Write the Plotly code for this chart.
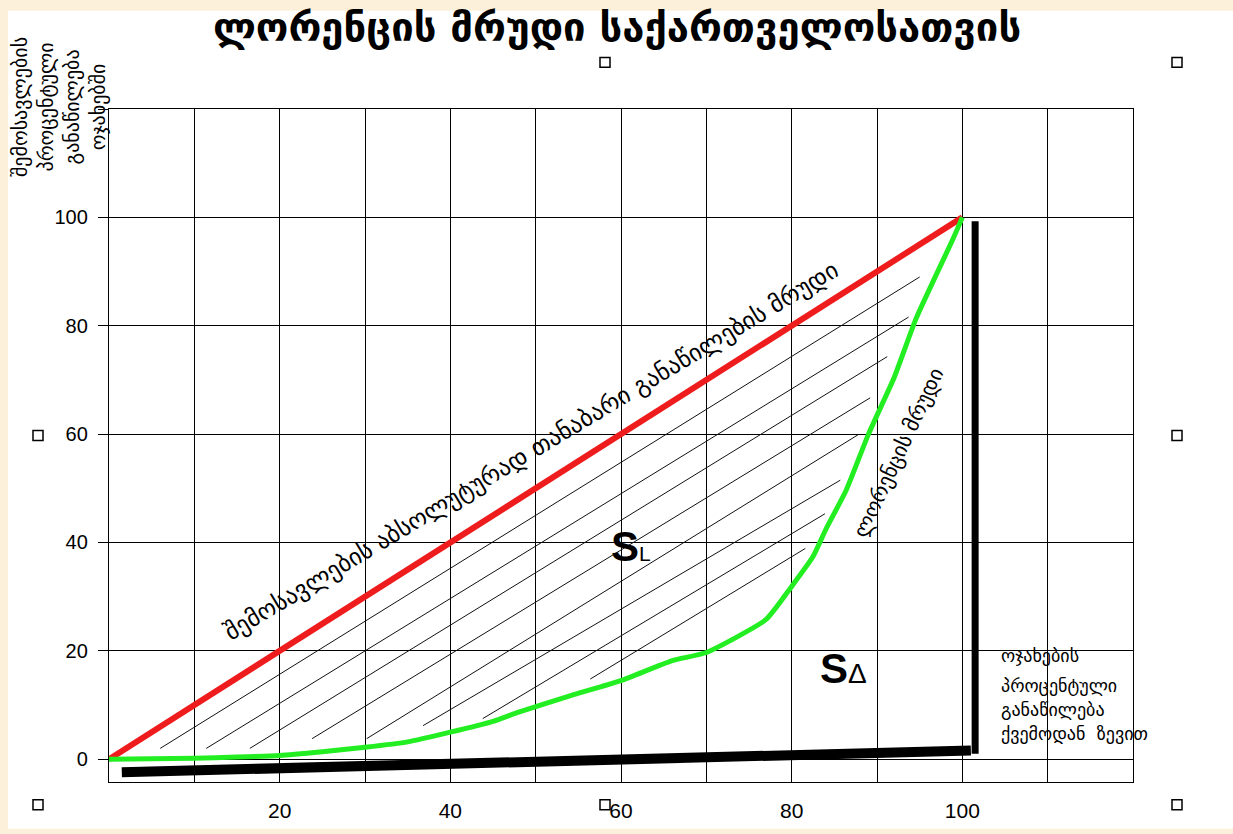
import plotly.graph_objects as go

# ---------------- data ----------------
# Lorenz curve: cumulative % of families vs cumulative % of income
families_pct = [0, 10, 15, 20, 25, 30, 35, 40, 45, 48, 54, 60, 66, 70, 77, 80, 82.5, 84, 86.4, 89, 92, 94.6, 98.9, 100]
income_pct = [0, 0.2, 0.4, 0.7, 1.4, 2.2, 3.2, 5.0, 7.0, 8.7, 11.7, 14.5, 18.2, 19.7, 25.8, 31.9, 37.4, 42.4, 49.7, 60, 70.4, 81.4, 96, 100]

# line of absolute equality
equal_x = [0, 100]
equal_y = [0, 100]

# line of absolute inequality (thick black L)
ineq_bottom_x = [1.5, 101.0]
ineq_bottom_y = [-2.4, 1.6]
ineq_vert_x = [101.5, 101.5]
ineq_vert_y = [1.0, 99.3]

# hatching segments between the two curves (start / end)
hatch_x0 = [6.0, 11.4, 16.5, 23.8, 30.2, 36.8, 43.8, 56.4]
hatch_y0 = [2.0, 2.0, 2.0, 3.8, 3.8, 6.2, 7.5, 14.8]
hatch_x1 = [95.0, 93.7, 91.2, 89.2, 87.8, 85.7, 83.9, 81.6]
hatch_y1 = [89.0, 81.6, 74.3, 66.7, 59.9, 51.5, 45.3, 38.9]

x_tickvals = [0, 10, 20, 30, 40, 50, 60, 70, 80, 90, 100, 110, 120]
x_ticktext = ["", "", "20", "", "40", "", "60", "", "80", "", "100", "", ""]
y_tickvals = [0, 20, 40, 60, 80, 100, 120]
y_ticktext = ["0", "20", "40", "60", "80", "100", ""]

title_text = "ლორენცის მრუდი საქართველოსათვის"
ylabel_text = "შემოსავლების<br>პროცენტული<br>განაწილება<br>ოჯახებში"
equal_label = "შემოსავლების აბსოლუტურად თანაბარი განაწილების მრუდი"
lorenz_label = "ლორენცის მრუდი"
xlabel_lines = ["ოჯახების", "პროცენტული", "განაწილება", "ქვემოდან  ზევით"]
xlabel_y = [19.2, 13.7, 9.1, 4.7]

# ---------------- layout geometry ----------------
W, H = 1233, 834
L, R, T, B = 109, 100, 109, 47
PW, PH = W - L - R, H - T - B


def px_to_paper(px, py):
    return (px - L) / PW, (H - B - py) / PH


GEO = "DejaVu Sans"
BLACK = "#000000"

fig = go.Figure()

# hatching
for x0, y0, x1, y1 in zip(hatch_x0, hatch_y0, hatch_x1, hatch_y1):
    fig.add_trace(go.Scatter(x=[x0, x1], y=[y0, y1], mode="lines",
                             line=dict(color="#111111", width=1),
                             hoverinfo="skip", showlegend=False))

fig.add_trace(go.Scatter(x=equal_x, y=equal_y, mode="lines",
                         line=dict(color="#EE1C1C", width=6), showlegend=False))
fig.add_trace(go.Scatter(x=families_pct, y=income_pct, mode="lines",
                         line=dict(color="#22EE22", width=5, shape="spline", smoothing=0.5),
                         showlegend=False))
fig.add_trace(go.Scatter(x=ineq_bottom_x, y=ineq_bottom_y, mode="lines",
                         line=dict(color=BLACK, width=10), showlegend=False))
fig.add_trace(go.Scatter(x=ineq_vert_x, y=ineq_vert_y, mode="lines",
                         line=dict(color=BLACK, width=7), showlegend=False))

annotations = []
# diagonal label
annotations.append(dict(x=49.5, y=56.8, xref="x", yref="y", text=equal_label,
                        showarrow=False, textangle=-31,
                        font=dict(family=GEO, size=24, color=BLACK)))
# lorenz label
annotations.append(dict(x=92.5, y=56.6, xref="x", yref="y", text=lorenz_label,
                        showarrow=False, textangle=-65,
                        font=dict(family=GEO, size=21, color=BLACK)))
# S_L and S_delta
annotations.append(dict(x=61.2, y=39.2, xref="x", yref="y",
                        text="<b>S</b><span style='font-size:21px'>L</span>",
                        showarrow=False,
                        font=dict(family="Liberation Sans", size=42, color=BLACK)))
annotations.append(dict(x=86.1, y=16.8, xref="x", yref="y",
                        text="<b>S</b><span style='font-size:28px'>Δ</span>",
                        showarrow=False,
                        font=dict(family="Liberation Sans", size=42, color=BLACK)))
# x label lines
for txt, yy in zip(xlabel_lines, xlabel_y):
    annotations.append(dict(x=104.3, y=yy, xref="x", yref="y", text=txt,
                            showarrow=False, xanchor="left", yanchor="middle",
                            font=dict(family=GEO, size=18, color=BLACK)))
# y label (rotated)
yx, yy = px_to_paper(59, 107)
annotations.append(dict(x=yx, y=yy, xref="paper", yref="paper", text=ylabel_text,
                        showarrow=False, textangle=-90, xanchor="center", yanchor="middle",
                        font=dict(family=GEO, size=20, color=BLACK)))

# selection-handle squares (decoration)
handles_px = [(605, 62), (1177, 62), (38, 438), (1177, 438), (38, 810), (605, 810), (1177, 810)]
shapes = []
# white page on beige frame
x0p, y0p = px_to_paper(8, H)
x1p, y1p = px_to_paper(W, 10)
shapes.append(dict(type="rect", xref="paper", yref="paper", x0=x0p, y0=y0p, x1=x1p, y1=y1p,
                   fillcolor="white", line=dict(width=0), layer="below"))
for hx, hy in handles_px:
    a, b = px_to_paper(hx - 5, hy + 5)
    c, d = px_to_paper(hx + 5, hy - 5)
    shapes.append(dict(type="rect", xref="paper", yref="paper", x0=a, y0=b, x1=c, y1=d,
                       fillcolor="white", line=dict(color=BLACK, width=1.5)))

fig.update_layout(
    width=W, height=H,
    margin=dict(l=L, r=R, t=T, b=B),
    paper_bgcolor="#FCF0DA",
    plot_bgcolor="white",
    title=dict(text=title_text, x=617 / W, xanchor="center", y=1 - 27 / H, yanchor="middle",
               font=dict(family=GEO, size=40, color=BLACK, weight="bold")),
    annotations=annotations,
    shapes=shapes,
    xaxis=dict(range=[0, 120], tickmode="array", tickvals=x_tickvals, ticktext=x_ticktext,
               showgrid=True, gridcolor=BLACK, gridwidth=1.3, zeroline=False,
               showline=True, linecolor=BLACK, linewidth=1.3, mirror=True,
               ticks="", ticklabelstandoff=10,
               tickfont=dict(family="Liberation Sans", size=21, color=BLACK)),
    yaxis=dict(range=[-4.2, 120], tickmode="array", tickvals=y_tickvals, ticktext=y_ticktext,
               showgrid=True, gridcolor=BLACK, gridwidth=1.3, zeroline=False,
               showline=True, linecolor=BLACK, linewidth=1.3, mirror=True,
               ticks="outside", ticklen=10, tickcolor=BLACK, ticklabelstandoff=6,
               tickfont=dict(family="Liberation Sans", size=20, color=BLACK)),
)

fig.write_html("out.html", config={"displayModeBar": False},
               post_script="document.body.style.margin='0px';")
